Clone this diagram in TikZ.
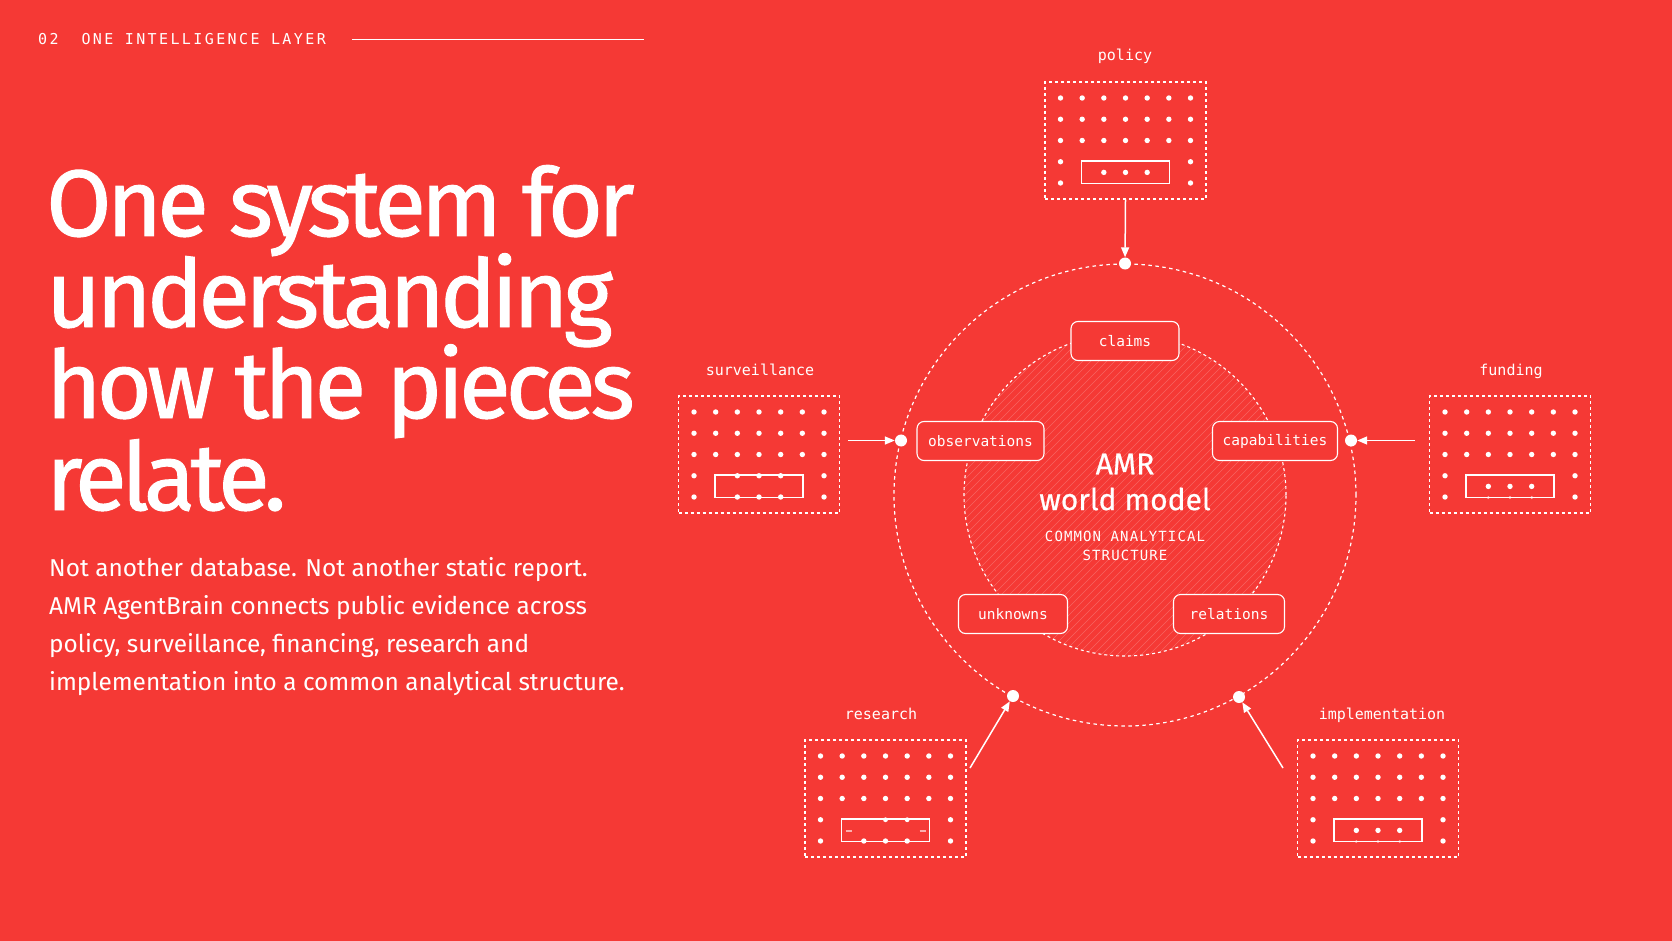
\documentclass[tikz,border=0pt]{standalone}
\usepackage{fontspec}
\setmainfont{Fira Sans}
\newfontfamily\titlef[FakeBold=1,LetterSpace=-5.2]{Fira Sans}
\newfontfamily\centf[FakeBold=0.6]{Fira Sans}
\newfontfamily\monof{DejaVu Sans Mono}
\newfontfamily\monosp[LetterSpace=16]{DejaVu Sans Mono}
\newfontfamily\monocap[LetterSpace=8]{DejaVu Sans Mono}
\usetikzlibrary{arrows.meta}
\definecolor{bg}{HTML}{F53935}
\tikzset{
  srcbox/.style={draw=white, line width=1.1pt, dash pattern=on 3pt off 3pt, minimum width=161pt, minimum height=117pt, inner sep=0pt},
  srclabel/.style={text=white, font=\monof\fontsize{15}{15}\selectfont, anchor=base, inner sep=0pt},
  pill/.style={draw=white, line width=1.1pt, rounded corners=7pt, fill=bg, minimum height=39pt, inner sep=0pt, text=white, font=\monof\fontsize{14.5}{15}\selectfont},
  port/.style={circle, fill=white, minimum size=12pt, inner sep=0pt},
  feed/.style={draw=white, line width=1.5pt, -{Triangle[length=10pt,width=8pt]}},
}
\newcommand\griddots{%
  \foreach \r in {-42.5,-21.25,0}{\foreach \c in {-65,-43.33,-21.67,0,21.67,43.33,65}{\fill[white] (\c,\r) circle (2.7pt);}}
  \foreach \r in {21.25,42.5}{\foreach \c in {-65,65}{\fill[white] (\c,\r) circle (2.7pt);}}
  \draw[white, line width=1.1pt] (-44,20.5) rectangle (44,43);
}
\begin{document}
\begin{tikzpicture}[x=1pt,y=-1pt]
\fill[bg] (0,0) rectangle (1672,941);
\useasboundingbox (0,0) rectangle (1672,941);
% header
\node[anchor=base west, inner sep=0pt, text=white, font=\monosp\fontsize{15}{15}\selectfont] (hdr) at (38,45) {02\ \ ONE INTELLIGENCE LAYER};
\coordinate (hl1) at (352,39.5);
\coordinate (hl2) at (644,39.5);
\draw[white, line width=1pt] (hl1) -- (hl2);
% title
\begin{scope}[every node/.style={anchor=base west, inner sep=0pt, text=white, font=\titlef\fontsize{94.5}{96}\selectfont}]
\node (t1) at (46,236) {One system for};
\node (t2) at (46,327) {understanding};
\node (t3) at (46,418) {how the pieces};
\node (t4) at (46,510) {relate.};
\end{scope}
% body
\begin{scope}[every node/.style={anchor=base west, inner sep=0pt, text=white, font=\fontsize{24.4}{24}\selectfont}]
\node (b1) at (49,576) {Not another database. Not another static report.};
\node (b2) at (49,614) {AMR AgentBrain connects public evidence across};
\node (b3) at (49,652) {policy, surveillance, financing, research and};
\node (b4) at (49,690) {implementation into a common analytical structure.};
\end{scope}
% hatched inner circle
\begin{scope}
\clip (1125,495) circle (161pt);
\foreach \i in {-400,-392,...,400}{\draw[white, opacity=0.22, line width=0.6pt] (1125+\i-200,695) -- (1125+\i+200,295);}
\end{scope}
\draw[white, line width=1.1pt, dash pattern=on 3pt off 3pt] (1125,495) circle (161pt);
\draw[white, line width=1.2pt, dash pattern=on 3.5pt off 3.5pt] (1125,495) circle (231pt);
% center text
\node[text=white, font=\centf\fontsize{30}{30}\selectfont, inner sep=0pt] (amr) at (1125,464) {AMR};
\node[text=white, font=\centf\fontsize{30}{30}\selectfont, inner sep=0pt] (wm) at (1125,499) {world model};
\node[text=white, font=\monocap\fontsize{14}{14}\selectfont, inner sep=0pt] (cas1) at (1125,536) {COMMON ANALYTICAL};
\node[text=white, font=\monocap\fontsize{14}{14}\selectfont, inner sep=0pt] (cas2) at (1125,555.5) {STRUCTURE};
% pills
\node[pill, minimum width=108pt] (claims) at (1125,341) {claims};
\node[pill, minimum width=127pt] (obs) at (980.5,441) {observations};
\node[pill, minimum width=125pt] (cap) at (1275,441) {capabilities};
\node[pill, minimum width=109pt] (unk) at (1013,614) {unknowns};
\node[pill, minimum width=111pt] (rel) at (1229,614) {relations};
% ports
\node[port] (pT) at (1125,263.5) {};
\node[port] (pL) at (901,440.5) {};
\node[port] (pR) at (1351,440.5) {};
\node[port] (pBL) at (1013,696) {};
\node[port] (pBR) at (1239,697) {};
% source boxes
\node[srcbox] (policy) at (1125.5,140.5) {};
\node[srcbox] (surv) at (759,454.5) {};
\node[srcbox] (fund) at (1510,454.5) {};
\node[srcbox] (res) at (885.5,798.5) {};
\node[srcbox] (impl) at (1378,798.5) {};
\begin{scope}[shift={(policy.center)}]\griddots
 \foreach \c in {-21.67,0,21.67}{\fill[white] (\c,31.9) circle (2.7pt);}\end{scope}
\begin{scope}[shift={(surv.center)}]\griddots
 \foreach \c in {-21.67,0,21.67}{\fill[white] (\c,21.25) circle (2.7pt); \fill[white] (\c,42.5) circle (2.7pt);}\end{scope}
\begin{scope}[shift={(fund.center)}]\griddots
 \foreach \c in {-21.67,0,21.67}{\fill[white] (\c,31.9) circle (2.7pt); \fill[white, opacity=0.6] (\c,43) circle (1.6pt);}\end{scope}
\begin{scope}[shift={(res.center)}]\griddots
 \foreach \c in {0,21.67}{\fill[white] (\c,21.25) circle (2.4pt);}
 \foreach \c in {-21.67,0,21.67}{\fill[white] (\c,42.5) circle (2.7pt);}
 \foreach \c in {-37,37}{\draw[white, opacity=0.6, line width=2pt] (\c-3,32) -- (\c+3,32);}\end{scope}
\begin{scope}[shift={(impl.center)}]\griddots
 \foreach \c in {-21.67,0,21.67}{\fill[white] (\c,31.9) circle (2.7pt); \fill[white, opacity=0.5] (\c,43) circle (1.6pt);}\end{scope}
% labels
\node[srclabel] (lpolicy) at (1125,61) {policy};
\node[srclabel] (lsurv) at (760,375) {surveillance};
\node[srclabel] (lfund) at (1511,375) {funding};
\node[srclabel] (lres) at (881,719) {research};
\node[srclabel] (limpl) at (1382,719) {implementation};
% feeds
\coordinate (sS) at (848,440.5);
\coordinate (sF) at (1415,440.5);
\coordinate (sR) at (970,768);
\coordinate (sI) at (1283,768);
\draw[feed] (policy.south) -- (pT);
\draw[feed] (sS) -- (pL);
\draw[feed] (sF) -- (pR);
\draw[feed] (sR) -- (pBL);
\draw[feed] (sI) -- (pBR);
\end{tikzpicture}
\end{document}
